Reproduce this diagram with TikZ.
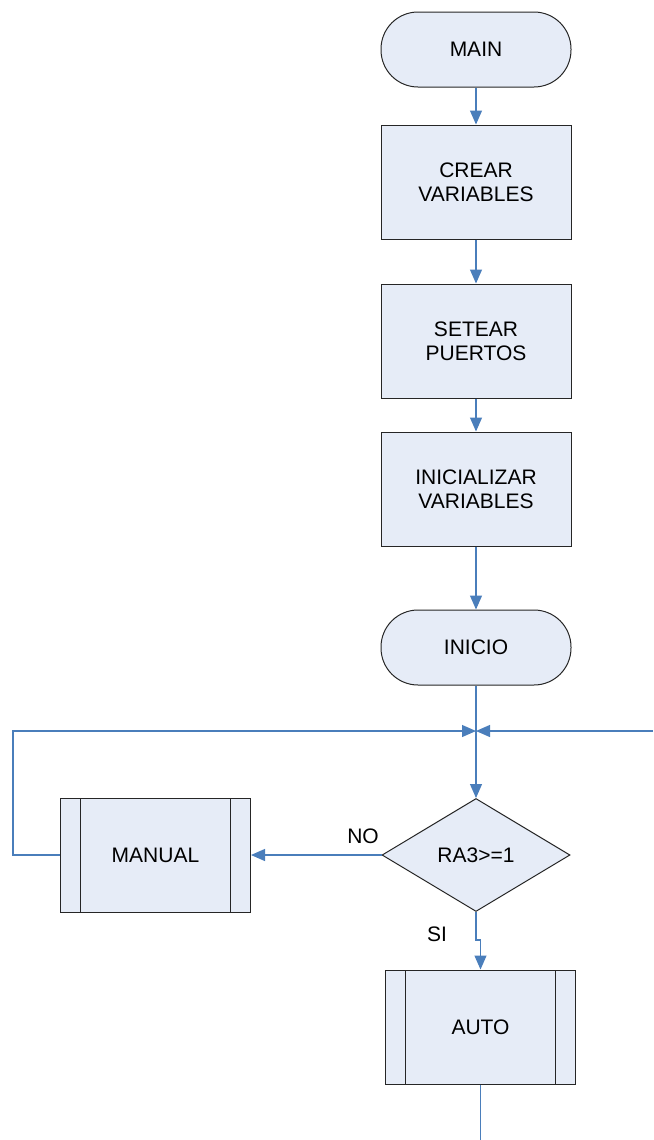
\documentclass[tikz,border=0pt]{standalone}
\usepackage{fontspec}
\setmainfont{Liberation Sans}
\usetikzlibrary{arrows.meta,shapes.geometric,calc}

\definecolor{flowblue}{RGB}{74,126,187}
\definecolor{flowfill}{RGB}{230,236,247}

\tikzset{
  base/.style={draw=black!85, fill=flowfill, line width=0.5pt, align=center,
    font=\fontsize{10.5}{12}\selectfont, inner sep=0pt},
  terminal/.style={base, rectangle, rounded corners=18.5pt,
    minimum width=95pt, minimum height=37.5pt},
  process/.style={base, rectangle, minimum width=95pt, minimum height=57pt},
  subproc/.style={process, path picture={
      \draw[line width=0.5pt] ([xshift=10pt]path picture bounding box.north west)
        -- ([xshift=10pt]path picture bounding box.south west);
      \draw[line width=0.5pt] ([xshift=-10pt]path picture bounding box.north east)
        -- ([xshift=-10pt]path picture bounding box.south east);}},
  decision/.style={base, diamond, aspect=1.66, minimum width=94pt, minimum height=56.5pt},
  flow/.style={draw=flowblue, line width=0.6pt},
  flowarrow/.style={flow, -{Triangle[width=6pt,length=7pt]}},
  lbl/.style={font=\fontsize{10.5}{12}\selectfont, inner sep=0pt}
}

\begin{document}
\begin{tikzpicture}[x=0.5pt, y=-0.5pt]
    \useasboundingbox (0,0) rectangle (653,1140);

    % main column
    \node[terminal] (main) at (476,49.5) {MAIN};
    \node[process] (crear) at (476,182) {CREAR\\VARIABLES};
    \node[process] (setear) at (476,341) {SETEAR\\PUERTOS};
    \node[process] (inicvar) at (476,489) {INICIALIZAR\\VARIABLES};
    \node[terminal] (inicio) at (476,647.5) {INICIO};

    % loop and decision
    \coordinate (join) at (476,731);
    \coordinate (loopleft) at (13,731);
    \coordinate (loopright) at (653,731);
    \coordinate (tail) at (480.5,1140);
    \node[decision] (ra3) at (476,855) {RA3>=1};
    \node[subproc] (manual) at (155.5,855) {MANUAL};
    \node[subproc] (auto) at (480.5,1027) {AUTO};

    \draw[flowarrow] (main) -- (crear);
    \draw[flowarrow] (crear) -- (setear);
    \draw[flowarrow] (setear) -- (inicvar);
    \draw[flowarrow] (inicvar) -- (inicio);
    \draw[flowarrow] (inicio) -- (ra3);

    % NO branch
    \draw[flowarrow] (ra3.west) -- (manual.east);
    \node[lbl] (no) at (363,836) {NO};
    \draw[flowarrow] (manual.west) -- (loopleft |- manual.west) -- (loopleft) -- (join);
    \draw[flowarrow] (loopright) -- (join);

    % SI branch
    \draw[flowarrow] (ra3.south) -- ++(0,28) -| (auto.north);
    \node[lbl] (si) at (437,934) {SI};
    \draw[flow] (auto.south) -- (tail);
\end{tikzpicture}
\end{document}
